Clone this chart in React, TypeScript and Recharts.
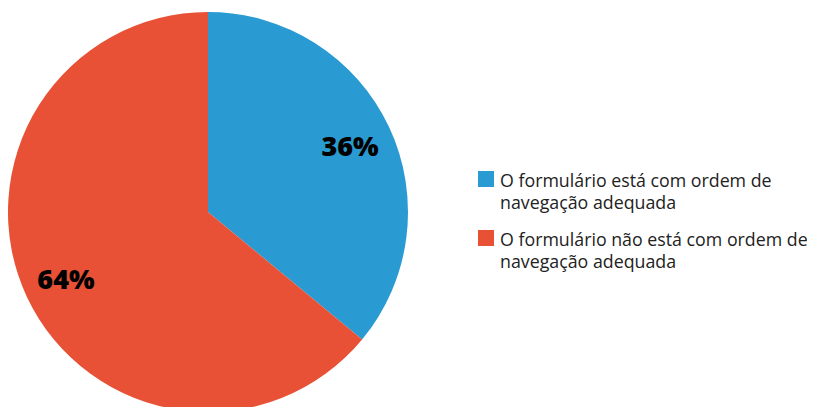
import React from 'react';
import { PieChart, Pie, Cell, Legend } from 'recharts';

const categories = [
  'O formulário está com ordem de navegação adequada',
  'O formulário não está com ordem de navegação adequada',
];
const values = [36, 64];
const colors = ['#2A9AD2', '#E85136'];

const data = categories.map((name, i) => ({ name, value: values[i] }));

const RADIAN = Math.PI / 180;

const renderLabel = (props: any) => {
  const { cx, cy, midAngle, outerRadius, value } = props;
  const r = outerRadius * 0.785;
  const x = cx + r * Math.cos(-midAngle * RADIAN);
  const y = cy + r * Math.sin(-midAngle * RADIAN);
  return (
    <text
      x={x}
      y={y}
      fill="#000"
      textAnchor="middle"
      dominantBaseline="central"
      style={{ fontFamily: 'Open Sans, sans-serif', fontWeight: 800, fontSize: 27 }}
    >
      {`${value}%`}
    </text>
  );
};

const renderLegend = (props: any) => {
  const { payload } = props;
  return (
    <div style={{ width: 345 }}>
      {payload.map((entry: any, i: number) => (
        <div key={`item-${i}`} style={{ display: 'flex', alignItems: 'flex-start', marginBottom: 15 }}>
          <span
            style={{
              display: 'inline-block',
              width: 16,
              height: 16,
              background: entry.color,
              marginTop: 2,
              marginRight: 6,
              flexShrink: 0,
            }}
          />
          <span style={{ fontFamily: 'Open Sans, sans-serif', fontSize: 17.8, lineHeight: '22px', color: '#222' }}>
            {entry.value}
          </span>
        </div>
      ))}
    </div>
  );
};

export default function App() {
  return (
    <PieChart width={815} height={407} margin={{ top: 0, right: 0, bottom: 0, left: 0 }}>
      <Pie
        data={data}
        dataKey="value"
        nameKey="name"
        cx={200}
        cy={204}
        outerRadius={200}
        startAngle={90}
        endAngle={-270}
        stroke="none"
        labelLine={false}
        label={renderLabel}
        isAnimationActive={false}
      >
        {data.map((d, i) => (
          <Cell key={`cell-${i}`} fill={colors[i]} />
        ))}
      </Pie>
      <Legend
        content={renderLegend}
        wrapperStyle={{ left: 470, top: 161, width: 350 }}
      />
    </PieChart>
  );
}
